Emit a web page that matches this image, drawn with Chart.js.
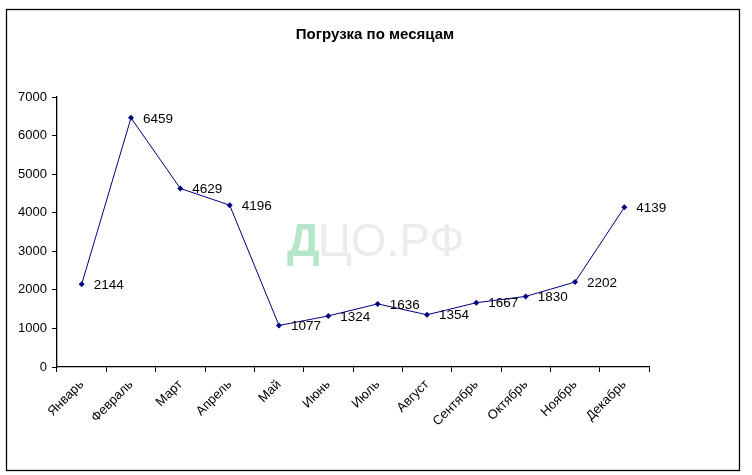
<!DOCTYPE html>
<html>
<head>
<meta charset="utf-8">
<script src="https://cdn.jsdelivr.net/npm/chart.js@4"></script>
<style>
  html, body { margin: 0; padding: 0; background: #fff; }
  #wrap { width: 752px; height: 475px; }
</style>
</head>
<body>
<div id="wrap"><canvas id="chart" width="752" height="475"></canvas></div>
<script>
const months = ['Январь','Февраль','Март','Апрель','Май','Июнь','Июль','Август','Сентябрь','Октябрь','Ноябрь','Декабрь'];
const loading = [2144, 6459, 4629, 4196, 1077, 1324, 1636, 1354, 1667, 1830, 2202, 4139];
const chartTitle = 'Погрузка по месяцам';
const FONT = "Arial, 'Liberation Sans', sans-serif";

// frame, title, watermark and value labels
const decor = {
  id: 'decor',
  beforeDraw(chart) {
    const ctx = chart.ctx;
    ctx.save();
    ctx.fillStyle = '#fff';
    ctx.fillRect(0, 0, chart.width, chart.height);
    ctx.strokeStyle = '#000';
    ctx.lineWidth = 1.3;
    ctx.strokeRect(6.5, 9.5, 733, 461);

    ctx.fillStyle = '#000';
    ctx.font = "bold 15px " + FONT;
    ctx.textAlign = 'center';
    ctx.textBaseline = 'middle';
    ctx.fillText(chartTitle, 375, 35);

    // watermark
    ctx.font = "bold 46px " + FONT;
    ctx.textAlign = 'left';
    ctx.textBaseline = 'alphabetic';
    const x0 = 287, y0 = 256;
    ctx.fillStyle = 'rgba(120, 210, 160, 0.55)';
    ctx.fillText('Д', x0, y0);
    const w = ctx.measureText('Д').width;
    ctx.font = "46px " + FONT;
    ctx.fillStyle = 'rgba(228, 228, 228, 0.7)';
    ctx.fillText('ЦО.РФ', x0 + w - 2, y0);
    ctx.restore();
  },
  afterDatasetsDraw(chart) {
    const ctx = chart.ctx;
    const meta = chart.getDatasetMeta(0);
    ctx.save();
    ctx.fillStyle = '#000';
    ctx.font = "13.5px " + FONT;
    ctx.textAlign = 'left';
    ctx.textBaseline = 'middle';
    meta.data.forEach((pt, i) => {
      ctx.fillText(String(loading[i]), pt.x + 12, pt.y + 1);
    });
    ctx.restore();
  }
};

new Chart(document.getElementById('chart'), {
  type: 'line',
  data: {
    labels: months,
    datasets: [{
      data: loading,
      borderColor: '#000080',
      backgroundColor: '#000080',
      borderWidth: 1,
      pointStyle: 'rectRot',
      pointRadius: 3,
      pointBorderWidth: 0,
      tension: 0
    }]
  },
  options: {
    responsive: false,
    animation: false,
    layout: { padding: { top: 97, right: 103, bottom: 0, left: 0 } },
    plugins: {
      legend: { display: false },
      title: { display: false },
      tooltip: { enabled: false }
    },
    scales: {
      x: {
        offset: true,
        grid: { display: true, drawOnChartArea: false, offset: true, tickLength: 5, color: '#000' },
        border: { color: '#000', width: 1.3 },
        ticks: { color: '#000', font: { family: FONT, size: 13 }, maxRotation: 45, minRotation: 45, padding: 5 },
        afterFit(s) { s.height = 108; }
      },
      y: {
        min: 0,
        max: 7000,
        grid: { display: true, drawOnChartArea: false, tickLength: 5, color: '#000' },
        border: { color: '#000', width: 1.3 },
        ticks: { stepSize: 1000, color: '#000', font: { family: FONT, size: 13 }, padding: 5,
                 callback: v => String(v) },
        afterFit(s) { s.width = 57; }
      }
    }
  },
  plugins: [decor]
});
</script>
</body>
</html>
